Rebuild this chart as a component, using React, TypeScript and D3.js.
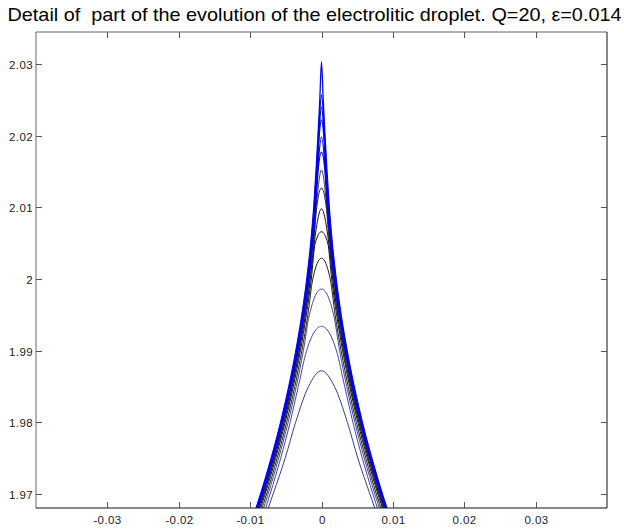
import React, { useRef, useEffect } from 'react';
import * as d3 from 'd3';

const title = 'Detail of  part of the evolution of the electrolitic droplet. Q=20, \u03b5=0.014';
const xTicks = [-0.03, -0.02, -0.01, 0, 0.01, 0.02, 0.03];
const xTickLabels = ['-0.03', '-0.02', '-0.01', '0', '0.01', '0.02', '0.03'];
const yTicks = [1.97, 1.98, 1.99, 2.0, 2.01, 2.02, 2.03];
const yTickLabels = ['1.97', '1.98', '1.99', '2', '2.01', '2.02', '2.03'];

// heights at which the half widths of each profile were read
const levels = [2.025, 2.02, 2.015, 2.01, 2.005, 2.0, 1.995, 1.99, 1.985, 1.98, 1.975, 1.97, 1.965];

// tip height of every profile, latest (sharpest) first
const peaks = [2.0303, 2.0257, 2.024, 2.0222, 2.0198, 2.0177, 2.0152, 2.0127, 2.0098, 2.0066, 2.0029, 1.9986, 1.9934, 1.9872];

// half width of each profile at each level, in units of 1e-3 (null = above the tip)
const halfWidths = [
  [0.24, 0.49, 0.77, 1.09, 1.51, 2.06, 2.75, 3.59, 4.58, 5.73, 7.05, 8.53, 10.21],
  [null, 0.43, 0.71, 1.03, 1.45, 2.0, 2.69, 3.53, 4.52, 5.67, 6.99, 8.47, 10.15],
  [null, 0.38, 0.66, 0.98, 1.4, 1.95, 2.64, 3.48, 4.47, 5.62, 6.94, 8.42, 10.1],
  [null, 0.32, 0.6, 0.92, 1.34, 1.89, 2.58, 3.42, 4.41, 5.56, 6.88, 8.36, 10.04],
  [null, null, 0.55, 0.87, 1.29, 1.84, 2.53, 3.37, 4.36, 5.51, 6.83, 8.31, 9.99],
  [null, null, 0.49, 0.81, 1.23, 1.78, 2.47, 3.31, 4.3, 5.45, 6.77, 8.25, 9.93],
  [null, null, null, 0.74, 1.16, 1.71, 2.4, 3.24, 4.23, 5.38, 6.7, 8.18, 9.86],
  [null, null, null, 0.67, 1.09, 1.64, 2.33, 3.17, 4.16, 5.31, 6.63, 8.11, 9.79],
  [null, null, null, null, 1.02, 1.57, 2.26, 3.1, 4.09, 5.24, 6.56, 8.04, 9.72],
  [null, null, null, null, 0.88, 1.43, 2.12, 2.96, 3.95, 5.1, 6.42, 7.9, 9.58],
  [null, null, null, null, null, 1.22, 1.91, 2.75, 3.74, 4.89, 6.21, 7.69, 9.37],
  [null, null, null, null, null, null, 1.7, 2.54, 3.53, 4.68, 6.0, 7.48, 9.16],
  [null, null, null, null, null, null, null, 2.09, 3.25, 4.4, 5.72, 7.2, 8.88],
  [null, null, null, null, null, null, null, null, 1.82, 3.63, 5.09, 6.78, 8.53],
];

const curveColors = [
  '#0505e6', '#0505e6', '#0505e6', '#0505e6', '#0505e6', '#0505e6',
  '#3a3a4a', '#222', '#111', '#111', '#222',
  '#45459c', '#45459c', '#3c3c8c',
];

const App = () => {
  const ref = useRef<SVGSVGElement>(null);
  const width = 624;
  const height = 529;

  useEffect(() => {
    const svg = d3.select(ref.current);
    svg.selectAll('*').remove();

    const left = 36, right = 607, top = 32, bottom = 508;
    const font = 'Liberation Sans, Arial, sans-serif';

    const x = d3.scaleLinear().domain([-0.04, 0.04]).range([left, right]);
    const y = d3.scaleLinear().domain([1.96805, 2.03446]).range([bottom, top]);

    svg.append('rect').attr('width', width).attr('height', height).attr('fill', '#fff');

    // title
    svg.append('text')
      .attr('x', 314.5)
      .attr('y', 21)
      .attr('text-anchor', 'middle')
      .attr('font-family', font)
      .attr('font-size', 19)
      .attr('textLength', 614)
      .attr('lengthAdjust', 'spacingAndGlyphs')
      .attr('fill', '#000')
      .style('white-space', 'pre')
      .text(title);

    svg.append('clipPath').attr('id', 'plotClip')
      .append('rect')
      .attr('x', left).attr('y', top)
      .attr('width', right - left).attr('height', bottom - top);

    const line = d3.line<number[]>()
      .x(d => x(d[0]))
      .y(d => y(d[1]))
      .curve(d3.curveMonotoneX);

    const g = svg.append('g').attr('clip-path', 'url(#plotClip)');

    // draw earliest profile first so the sharp tips end on top
    for (let k = peaks.length - 1; k >= 0; k--) {
      const half: number[][] = [];
      halfWidths[k].forEach((w, i) => {
        if (w !== null) half.push([w * 1e-3, levels[i]]);
      });
      const pts = [
        ...half.slice().reverse().map(p => [-p[0], p[1]]),
        [0, peaks[k]],
        ...half,
      ];
      g.append('path')
        .attr('d', line(pts))
        .attr('fill', 'none')
        .attr('stroke', curveColors[k])
        .attr('stroke-width', k < 6 ? 1.3 : 1);
    }

    // frame
    svg.append('line').attr('x1', left).attr('x2', right).attr('y1', top).attr('y2', top)
      .attr('stroke', '#666');
    svg.append('line').attr('x1', left).attr('x2', left).attr('y1', top).attr('y2', bottom)
      .attr('stroke', '#666');
    svg.append('line').attr('x1', left).attr('x2', right).attr('y1', bottom).attr('y2', bottom)
      .attr('stroke', '#111');
    svg.append('line').attr('x1', right).attr('x2', right).attr('y1', top).attr('y2', bottom)
      .attr('stroke', '#111');

    const tickLen = 6;
    xTicks.forEach((t, i) => {
      const px = Math.round(x(t)) + 0.5;
      svg.append('line').attr('x1', px).attr('x2', px).attr('y1', bottom).attr('y2', bottom - tickLen)
        .attr('stroke', '#555');
      svg.append('line').attr('x1', px).attr('x2', px).attr('y1', top).attr('y2', top + tickLen)
        .attr('stroke', '#555');
      svg.append('text')
        .attr('x', px)
        .attr('y', 524)
        .attr('text-anchor', 'middle')
        .attr('font-family', font)
        .attr('font-size', 11.5)
        .attr('letter-spacing', 0.4)
        .attr('fill', '#222')
        .text(xTickLabels[i]);
    });

    yTicks.forEach((t, i) => {
      const py = Math.round(y(t)) + 0.5;
      svg.append('line').attr('x1', left).attr('x2', left + tickLen).attr('y1', py).attr('y2', py)
        .attr('stroke', '#555');
      svg.append('line').attr('x1', right).attr('x2', right - tickLen).attr('y1', py).attr('y2', py)
        .attr('stroke', '#555');
      svg.append('text')
        .attr('x', 33)
        .attr('y', py)
        .attr('dy', '0.35em')
        .attr('text-anchor', 'end')
        .attr('font-family', font)
        .attr('font-size', 11.5)
        .attr('letter-spacing', 0.4)
        .attr('fill', '#222')
        .text(yTickLabels[i]);
    });
  }, []);

  return (
    <svg
      ref={ref}
      width={width}
      height={height}
      style={{ position: 'absolute', left: 0, top: 0 }}
    />
  );
};

export default App;
